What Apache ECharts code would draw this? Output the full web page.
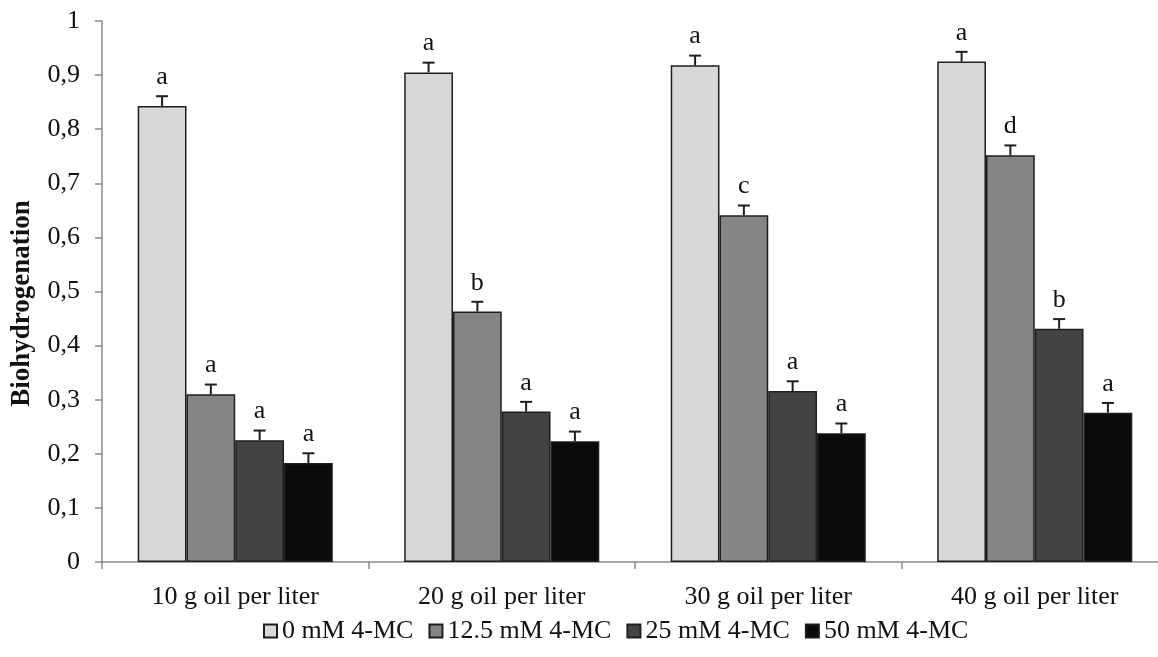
<!DOCTYPE html>
<html>
<head>
<meta charset="utf-8">
<script src="https://cdn.jsdelivr.net/npm/echarts@6/dist/echarts.min.js"></script>
<style>
  html, body { margin: 0; padding: 0; background: #fff; }
  #chart { width: 1158px; height: 657px; }
</style>
</head>
<body>
<div id="chart"></div>
<script>
// Oil dose groups on the x axis
const categories = ['10 g oil per liter', '20 g oil per liter', '30 g oil per liter', '40 g oil per liter'];
// 4-MC treatment levels (one bar series each)
const seriesNames = ['0 mM 4-MC', '12.5 mM 4-MC', '25 mM 4-MC', '50 mM 4-MC'];
// Mean biohydrogenation per treatment, one value per oil dose
const mc0 = [0.843, 0.905, 0.918, 0.925];
const mc125 = [0.310, 0.463, 0.641, 0.752];
const mc25 = [0.225, 0.278, 0.316, 0.431];
const mc50 = [0.183, 0.223, 0.238, 0.276];
// Standard error for each bar
const err0 = [0.018, 0.018, 0.018, 0.018];
const err125 = [0.018, 0.018, 0.018, 0.018];
const err25 = [0.018, 0.018, 0.018, 0.018];
const err50 = [0.018, 0.018, 0.018, 0.018];
// Significance letters above each bar
const let0 = ['a', 'a', 'a', 'a'];
const let125 = ['a', 'b', 'c', 'd'];
const let25 = ['a', 'a', 'a', 'b'];
const let50 = ['a', 'a', 'a', 'a'];
// Y axis tick labels (decimal comma)
const yTicks = ['0', '0,1', '0,2', '0,3', '0,4', '0,5', '0,6', '0,7', '0,8', '0,9', '1'];

const values = [mc0, mc125, mc25, mc50];
const errors = [err0, err125, err25, err50];
const letters = [let0, let125, let25, let50];
const fills = ['#d8d8d8', '#858585', '#434343', '#0b0b0b'];

const BAR_FRAC = 0.183; // each bar's share of a category's width
const FONT = '"Liberation Serif", "DejaVu Serif", serif';
const FS = 26;

const barSeries = values.map((vals, i) => ({
  name: seriesNames[i],
  type: 'bar',
  data: vals,
  barWidth: (BAR_FRAC * 100) + '%',
  barGap: '0%',
  itemStyle: { color: fills[i], borderColor: '#1e1e1e', borderWidth: 1.5 },
  emphasis: { disabled: true },
  z: 2
}));

// Error bars with caps and letters, drawn on top of the bars
const errSeries = values.map((vals, i) => ({
  type: 'custom',
  name: seriesNames[i] + ' err',
  data: vals.map((v, j) => [j, v, errors[i][j], letters[i][j]]),
  encode: { x: 0, y: 1 },
  z: 5,
  silent: true,
  renderItem: function (params, api) {
    const j = api.value(0);
    const v = api.value(1);
    const e = api.value(2);
    const catW = api.size([1, 0])[0];
    const dx = (i - 1.5) * BAR_FRAC * catW;
    const base = api.coord([j, v]);
    const top = api.coord([j, v + e]);
    const x = base[0] + dx;
    const cap = 6;
    const style = { stroke: '#1e1e1e', lineWidth: 2 };
    return {
      type: 'group',
      children: [
        { type: 'line', shape: { x1: x, y1: base[1], x2: x, y2: top[1] }, style: style },
        { type: 'line', shape: { x1: x - cap, y1: top[1], x2: x + cap, y2: top[1] }, style: style },
        {
          type: 'text',
          x: x, y: top[1] - 6,
          style: {
            text: letters[i][j],
            fill: '#111',
            font: FS + 'px ' + FONT,
            align: 'center',
            verticalAlign: 'bottom'
          }
        }
      ]
    };
  }
}));

const chart = echarts.init(document.getElementById('chart'), null, { renderer: 'canvas' });
chart.setOption({
  animation: false,
  backgroundColor: '#fff',
  grid: { left: 102, right: -10, top: 21, bottom: 95, containLabel: false, outerBoundsMode: 'none' },
  legend: {
    data: seriesNames,
    bottom: 8,
    left: 258,
    icon: 'rect',
    itemWidth: 13,
    itemHeight: 13,
    itemGap: 15,
    textStyle: { fontFamily: FONT, fontSize: FS, color: '#111' }
  },
  xAxis: {
    type: 'category',
    data: categories,
    axisLine: { lineStyle: { color: '#8a8a8a', width: 1.5 } },
    axisTick: { show: true, length: 7, alignWithLabel: false, lineStyle: { color: '#8a8a8a', width: 1.5 } },
    axisLabel: { fontFamily: FONT, fontSize: FS, color: '#111', margin: 22, interval: 0 },
    splitLine: { show: false }
  },
  yAxis: {
    type: 'value',
    min: 0,
    max: 1,
    interval: 0.1,
    name: 'Biohydrogenation',
    nameLocation: 'middle',
    nameGap: 66,
    nameTextStyle: { fontFamily: FONT, fontSize: 27, fontWeight: 'bold', color: '#111', padding: [0, 24, 0, 0] },
    axisLine: { show: true, lineStyle: { color: '#8a8a8a', width: 1.5 } },
    axisTick: { show: true, length: 7, lineStyle: { color: '#8a8a8a', width: 1.5 } },
    axisLabel: {
      fontFamily: FONT, fontSize: FS, color: '#111', margin: 22,
      formatter: function (val) { return yTicks[Math.round(val * 10)]; }
    },
    splitLine: { show: false }
  },
  series: barSeries.concat(errSeries)
});
</script>
</body>
</html>
